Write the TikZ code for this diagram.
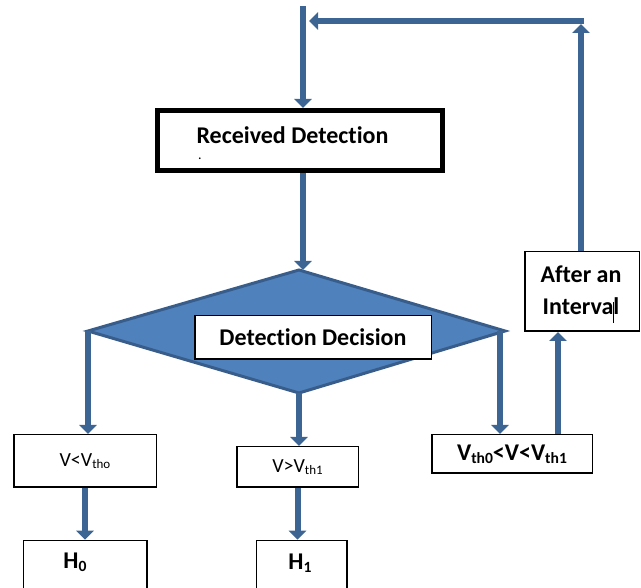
\documentclass[tikz,border=0pt]{standalone}
\usepackage{fontspec}
\setmainfont{Carlito}[Ligatures=NoCommon]
\usetikzlibrary{arrows.meta,calc}
\definecolor{flowblue}{HTML}{4F81BD}
\definecolor{flowedge}{HTML}{385D8A}
\definecolor{arrowblue}{HTML}{3D6594}
% lowered, reduced text for subscripts such as V_th1
\newcommand{\lowtext}[1]{\raisebox{-0.25ex}{\scalebox{0.65}{#1}}}

\begin{document}
\begin{tikzpicture}[x=1pt,y=-1pt,
  box/.style={draw=black, line width=1.5pt, fill=white, inner sep=0pt},
  thickbox/.style={draw=black, line width=5pt, fill=white, inner sep=0pt},
  flow/.style={draw=arrowblue, line width=6pt, -{Triangle[length=9pt,width=17pt]}},
  boldlabel/.style={font=\fontsize{24}{32}\selectfont\bfseries},
  smalllabel/.style={font=\fontsize{20}{24}\selectfont},
]
\useasboundingbox (0,0) rectangle (641,588);

% top block
\node[thickbox, minimum width=285pt, minimum height=60pt] (recv) at (300,140.5) {};
\node[boldlabel, inner sep=1pt] (recvtext) at (292.5,135.5) {Received Detection};
\node[font=\fontsize{14}{14}\selectfont, inner sep=0pt] (recvdot) at (200,159) {.};

% decision diamond
\coordinate (dtop) at (299,270);
\coordinate (dleft) at (88,331);
\coordinate (dright) at (505,331);
\coordinate (dbot) at (299,393);
\filldraw[fill=flowblue, draw=flowedge, line width=3pt, line join=miter]
  (dtop) -- (dright) -- (dbot) -- (dleft) -- cycle;
\node[box, boldlabel, minimum width=236.5pt, minimum height=43.5pt] (dd) at (313,337.5) {Detection Decision};

% outcome boxes
\node[box, smalllabel, minimum width=142.5pt, minimum height=52.5pt] (lt) at (85,461) {V<V\lowtext{tho}\hspace{8pt}};
\node[box, smalllabel, minimum width=121.5pt, minimum height=40.5pt] (mt) at (297.5,467) {V>V\lowtext{th1}\hspace{6pt}};
\node[box, boldlabel, minimum width=160.5pt, minimum height=38.5pt] (rt) at (512,454) {V\lowtext{th0}<V<V\lowtext{th1}\hspace{24pt}};

% hypotheses
\node[box, anchor=north, minimum width=123.5pt, minimum height=80pt] (h0) at (85,539.75) {};
\node[boldlabel] (h0text) at (75,562) {H\lowtext{0}};
\node[box, anchor=north, minimum width=90.5pt, minimum height=80pt] (h1) at (301.5,539.75) {};
\node[boldlabel] (h1text) at (300,563) {H\lowtext{1}};

% waiting block, with the text cursor left in its second line
\node[box, minimum width=114.5pt, minimum height=79.5pt] (after) at (582,291.5) {};
\node[boldlabel, align=center] (aftertext) at (581,290) {After an\\Interval};
\draw[line width=1pt] (613,302) -- (613,323);

% connectors
\coordinate (feed) at (303,6);
\coordinate (riseup) at (558,0);
\coordinate (corner) at (581,21);
\coordinate (entry) at (309,21);
\coordinate (rdrop) at (500,331);

\draw[flow] (feed) -- (feed |- recv.north);
\draw[flow] (feed |- recv.south) -- (feed |- dtop);
\draw[flow] (dleft) -- (dleft |- lt.north);
\draw[flow] (dbot) -- (dbot |- mt.north);
\draw[flow] (rdrop) -- (rdrop |- rt.north);
\draw[flow] (lt.south) -- (lt.south |- h0.north);
\draw[flow] (mt.south) -- (mt.south |- h1.north);
\draw[flow] (rt.north -| riseup) -- (after.south -| riseup);
\draw[flow] (after.north -| corner) -- ([yshift=-3pt]corner);
\draw[flow] ([xshift=3pt]corner) -- (entry);
\end{tikzpicture}
\end{document}
